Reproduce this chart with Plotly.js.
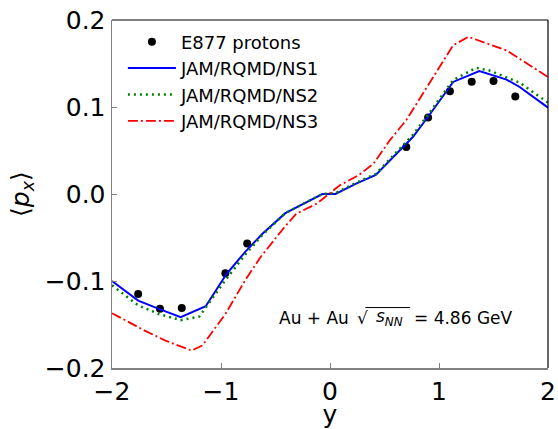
<!DOCTYPE html>
<html><head><meta charset="utf-8">
<script src="https://cdn.plot.ly/plotly-3.0.1.min.js"></script>
<style>body{margin:0;background:#fff}#plot{width:558px;height:429px}</style>
</head><body><div id="plot"></div>
<script>
// E877 protons
const expY = [-1.76, -1.56, -1.36, -0.96, -0.76, 0.70, 0.90, 1.10, 1.30, 1.50, 1.70];
const expPx = [-0.115, -0.132, -0.131, -0.091, -0.057, 0.054, 0.088, 0.118, 0.129, 0.130, 0.112];

// JAM/RQMD/NS1
const ns1Y = [-2.0, -1.76, -1.57, -1.37, -1.14, -0.95, -0.78, -0.62, -0.41, -0.07, 0.05, 0.24, 0.42, 0.55, 0.76, 0.91, 1.13, 1.37, 1.62, 1.74, 2.0];
const ns1Px = [-0.100, -0.1225, -0.132, -0.1416, -0.129, -0.092, -0.0668, -0.0457, -0.022, 0.000, 0.000, 0.012, 0.022, 0.0387, 0.0655, 0.0905, 0.1288, 0.1414, 0.1315, 0.123, 0.0993];

// JAM/RQMD/NS2
const ns2Y = [-2.0, -1.76, -1.57, -1.37, -1.2, -0.96, -0.78, -0.62, -0.41, -0.07, 0.05, 0.24, 0.42, 0.55, 0.76, 0.91, 1.13, 1.34, 1.46, 1.74, 2.0];
const ns2Px = [-0.105, -0.128, -0.138, -0.145, -0.141, -0.099, -0.070, -0.047, -0.022, 0.000, 0.001, 0.013, 0.023, 0.040, 0.068, 0.093, 0.131, 0.145, 0.142, 0.128, 0.105];

// JAM/RQMD/NS3
const ns3Y = [-2.0, -1.70, -1.51, -1.27, -1.17, -0.96, -0.78, -0.64, -0.43, -0.31, -0.12, 0.09, 0.26, 0.40, 0.55, 0.70, 0.91, 1.13, 1.27, 1.62, 2.0];
const ns3Px = [-0.137, -0.157, -0.1685, -0.180, -0.174, -0.138, -0.0995, -0.073, -0.040, -0.0227, -0.011, 0.010, 0.0214, 0.035, 0.062, 0.085, 0.127, 0.171, 0.1806, 0.165, 0.1345];

const xTicks = [-2, -1, 0, 1, 2];
const yTicks = [-0.2, -0.1, 0.0, 0.1, 0.2];

const F = 'DejaVu Sans, sans-serif';
const traces = [
  {x: expY, y: expPx, mode: 'markers', name: 'E877 protons', legendgroup: 'a',
   marker: {color: 'black', size: 8}},
  {x: ns1Y, y: ns1Px, mode: 'lines', name: 'JAM/RQMD/NS1', legendgroup: 'b',
   line: {color: '#0000ff', width: 2}},
  {x: ns2Y, y: ns2Px, mode: 'lines', name: 'JAM/RQMD/NS2', legendgroup: 'c',
   line: {color: '#008000', width: 2.5, dash: '2px,4px'}},
  {x: ns3Y, y: ns3Px, mode: 'lines', name: 'JAM/RQMD/NS3', legendgroup: 'd',
   line: {color: '#ff0000', width: 1.8, dash: '10px,3px,2px,3px'}}
];

const annY = -0.142;
const annFont = {size: 17, family: F};
const layout = {
  width: 558, height: 429,
  margin: {l: 112, r: 10, t: 19.5, b: 61.3, pad: 0},
  paper_bgcolor: 'white', plot_bgcolor: 'white',
  font: {family: F, color: 'black'},
  showlegend: true,
  legend: {x: 0.025, y: 0.99, xanchor: 'left', yanchor: 'top',
           bgcolor: 'rgba(0,0,0,0)', font: {size: 18, family: F},
           tracegroupgap: 4, traceorder: 'normal', itemwidth: 48},
  xaxis: {range: [-2, 2], tickvals: xTicks, ticktext: xTicks.map(v => v < 0 ? '\u2212' + Math.abs(v) : String(v)),
          ticks: 'inside', ticklen: 5, tickcolor: '#808080', tickwidth: 1,
          showline: true, linecolor: '#808080', linewidth: 1.5, showgrid: false, zeroline: false,
          tickfont: {size: 25, family: F},
          title: {text: 'y', font: {size: 25, family: F}, standoff: 9}},
  yaxis: {range: [-0.2, 0.2], tickvals: yTicks, ticktext: yTicks.map(v => (v < 0 ? '\u2212' : '') + Math.abs(v).toFixed(1)),
          ticks: 'inside', ticklen: 5, tickcolor: '#808080', tickwidth: 1,
          showline: true, linecolor: '#808080', linewidth: 1.5, showgrid: false, zeroline: false,
          tickfont: {size: 25, family: F},
          title: {text: '\u27e8<i>p</i><sub><i>x</i></sub>\u27e9', font: {size: 25, family: F}, standoff: 8}},
  shapes: [
    {type: 'line', xref: 'paper', yref: 'paper', x0: 0, x1: 1, y0: 1, y1: 1, line: {color: 'black', width: 1.2}},
    {type: 'line', xref: 'paper', yref: 'paper', x0: 1, x1: 1, y0: 0, y1: 1, line: {color: 'black', width: 1.2}},
    {type: 'line', xref: 'x', yref: 'y', x0: 0.325, x1: 0.735, y0: -0.1305, y1: -0.1305, line: {color: 'black', width: 1}}
  ],
  annotations: [
    {xref: 'x', yref: 'y', x: -0.49, y: annY, xanchor: 'left', yanchor: 'middle', showarrow: false,
     text: 'Au + Au', font: annFont},
    {xref: 'x', yref: 'y', x: 0.225, y: annY, xanchor: 'left', yanchor: 'middle', showarrow: false,
     text: '\u221a', font: annFont},
    {xref: 'x', yref: 'y', x: 0.40, y: annY, xanchor: 'left', yanchor: 'middle', showarrow: false,
     text: '<i>s</i><sub><i>NN</i></sub>', font: annFont},
    {xref: 'x', yref: 'y', x: 0.75, y: annY, xanchor: 'left', yanchor: 'middle', showarrow: false,
     text: '= 4.86 GeV', font: annFont}
  ]
};

Plotly.newPlot('plot', traces, layout, {displayModeBar: false, staticPlot: true});
</script></body></html>
